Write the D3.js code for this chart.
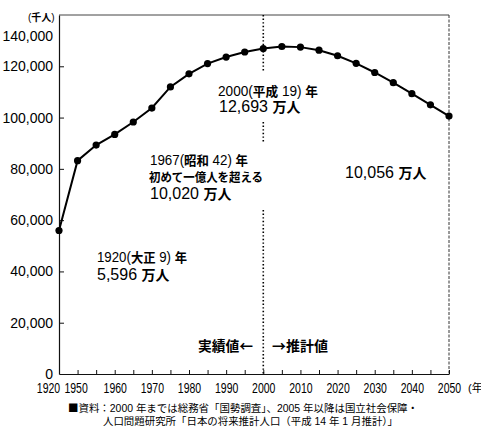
<!DOCTYPE html>
<html>
<head>
<meta charset="utf-8">
<script src="https://cdn.jsdelivr.net/npm/d3@7"></script>
<style>
  body { margin: 0; background: #fff; }
  svg { display: block; }
</style>
</head>
<body>
<div id="chart"></div>
<script>
// years on the x axis (evenly spaced categories)
var years = [1920, 1950, 1955, 1960, 1965, 1970, 1975, 1980, 1985, 1990, 1995,
             2000, 2005, 2010, 2015, 2020, 2025, 2030, 2035, 2040, 2045, 2050];
// total population, thousand people
var population = [55963, 83200, 89276, 93419, 98275, 103720, 111940, 117060, 121049, 123611, 125570,
                  126926, 127708, 127473, 126266, 124107, 121136, 117580, 113602, 109338, 104960, 100593];
var yTicks = [0, 20000, 40000, 60000, 80000, 100000, 120000, 140000];
var xLabelYears = [1920, 1950, 1960, 1970, 1980, 1990, 2000, 2010, 2020, 2030, 2040, 2050];
var splitYear = 2000;

var notes = [
    { text: "2000(平成 19) 年", x: 218, y: 96, size: "14px", cjk: "13px", len: 100 },
    { text: "12,693 万人", x: 219, y: 112, size: "16px", cjk: "14px" },
    { text: "1967(昭和 42) 年", x: 150, y: 165, size: "14px", cjk: "13px", len: 98 },
    { text: "初めて一億人を超える", x: 149, y: 182, size: "12.5px", cjk: "12.5px", len: 114 },
    { text: "10,020 万人", x: 150, y: 199, size: "16px", cjk: "14px" },
    { text: "10,056 万人", x: 345, y: 178, size: "16px", cjk: "14px" },
    { text: "1920(大正 9) 年", x: 97, y: 262, size: "14px", cjk: "13px", len: 90 },
    { text: "5,596 万人", x: 97, y: 280, size: "16px", cjk: "14px" },
    { text: "実績値←", x: 198, y: 351, size: "14px", cjk: "14px", len: 55 },
    { text: "→推計値", x: 272, y: 351, size: "14px", cjk: "14px", len: 56 }
];
var sourceLines = [
    { text: "■資料：2000 年までは総務省「国勢調査」、2005 年以降は国立社会保障・", x: 68, y: 412, size: "10.5px", cjk: "10.5px", len: 350, weight: "normal" },
    { text: "人口問題研究所「日本の将来推計人口（平成 14 年 1 月推計）」", x: 103, y: 425, size: "10.5px", cjk: "10.5px", len: 295, weight: "normal" }
];

var CJK = /[\u2190-\u21ff\u25a0-\u25ff\u3000-\u9fff\uff00-\uffef]/;

function mixedText(parent, line) {
    var t = parent.append("text")
        .attr("x", line.x)
        .attr("y", line.y)
        .style("fill", "#000");
    var runs = line.text.match(/[\u2190-\u21ff\u25a0-\u25ff\u3000-\u9fff\uff00-\uffef]+|[^\u2190-\u21ff\u25a0-\u25ff\u3000-\u9fff\uff00-\uffef]+/g);
    runs.forEach(function (r) {
        var isCjk = CJK.test(r);
        t.append("tspan")
            .text(r)
            .style("font-family", isCjk ? "'Noto Sans CJK JP'" : "'Liberation Sans', Arial, sans-serif")
            .style("font-weight", isCjk ? (line.weight || "bold") : "normal")
            .style("font-size", isCjk ? line.cjk : line.size);
    });
    if (line.len) {
        t.attr("textLength", line.len).attr("lengthAdjust", "spacingAndGlyphs");
    }
    return t;
}

function init() {
    var margin = { top: 15, right: 32, bottom: 56, left: 59 },
        width = 481 - margin.left - margin.right,
        height = 430 - margin.top - margin.bottom;

    var root = d3.select("#chart")
        .append("svg")
        .attr("width", 481)
        .attr("height", 430);

    var SVG = root.append("g")
        .attr("transform", "translate(" + margin.left + "," + margin.top + ")");

    var x = d3.scalePoint()
        .domain(years)
        .range([0, width]);

    var y = d3.scaleLinear()
        .domain([0, 140000])
        .range([height, 0]);

    // frame top + right
    SVG.append("line")
        .attr("x1", 0).attr("x2", width)
        .attr("y1", 0).attr("y2", 0)
        .style("stroke", "#444").style("stroke-width", 1);
    SVG.append("line")
        .attr("x1", width).attr("x2", width)
        .attr("y1", 0).attr("y2", height)
        .style("stroke", "#333").style("stroke-width", 1)
        .style("stroke-dasharray", "3,1.5");

    // dotted split line at 2000
    var segs = [[0, 57], [107, 127], [195, height]];
    SVG.selectAll(".split")
        .data(segs)
        .enter()
        .append("line")
        .attr("x1", x(splitYear)).attr("x2", x(splitYear))
        .attr("y1", d => d[0]).attr("y2", d => d[1])
        .style("stroke", "#000")
        .style("stroke-width", 1.6)
        .style("stroke-dasharray", "1.4,2.2");

    var xAxis = SVG.append("g")
        .attr("transform", "translate(0," + height + ")")
        .call(d3.axisBottom(x)
            .tickSizeInner(-4)
            .tickSizeOuter(0)
            .tickPadding(8)
            .tickFormat(d => xLabelYears.indexOf(d) >= 0 ? d : ""));
    xAxis.select(".domain").style("stroke", "#111").style("stroke-width", 1.2);
    xAxis.selectAll(".tick line").style("stroke", "#111");
    // condensed year labels: squeeze horizontally around the tick centre
    xAxis.selectAll(".tick text")
        .style("font-family", "'Liberation Sans', Arial, sans-serif")
        .style("font-size", "15px")
        .style("fill", "#000")
        .attr("transform", d => {
            var shift = d === 1920 ? -11 : (d === 1950 ? -2 : 0);
            return "translate(" + shift + ",0) scale(0.7,1)";
        });

    var yAxis = SVG.append("g")
        .call(d3.axisLeft(y)
            .tickValues(yTicks)
            .tickSizeInner(-5)
            .tickSizeOuter(0)
            .tickPadding(6)
            .tickFormat(d3.format(",")));
    yAxis.select(".domain").style("stroke", "#111").style("stroke-width", 1.2);
    yAxis.selectAll(".tick line")
        .style("stroke", "#111")
        .style("display", d => (d === 0 || d === 140000) ? "none" : null);
    yAxis.selectAll(".tick text")
        .style("font-family", "'Liberation Sans', Arial, sans-serif")
        .style("font-size", "14px")
        .style("fill", "#000")
        .attr("dy", d => d === 140000 ? "1.8em" : "0.32em");

    // population line
    var pts = years.map((yr, i) => ({ year: yr, value: population[i] }));
    SVG.append("path")
        .datum(pts)
        .attr("d", d3.line().x(d => x(d.year)).y(d => y(d.value)))
        .style("fill", "none")
        .style("stroke", "#000")
        .style("stroke-width", 2);

    SVG.selectAll(".dot")
        .data(pts)
        .enter()
        .append("circle")
        .attr("cx", d => x(d.year))
        .attr("cy", d => y(d.value))
        .attr("r", 3.6)
        .style("fill", "#000");

    // unit labels
    mixedText(root, { text: "(千人)", x: 28, y: 21, size: "10px", cjk: "10px" });
    mixedText(root, { text: "(年)", x: 468, y: 392, size: "11px", cjk: "11px", weight: "normal" });

    notes.forEach(n => mixedText(root, n));
    sourceLines.forEach(n => mixedText(root, n));
}

window.onload = init;
</script>
</body>
</html>
